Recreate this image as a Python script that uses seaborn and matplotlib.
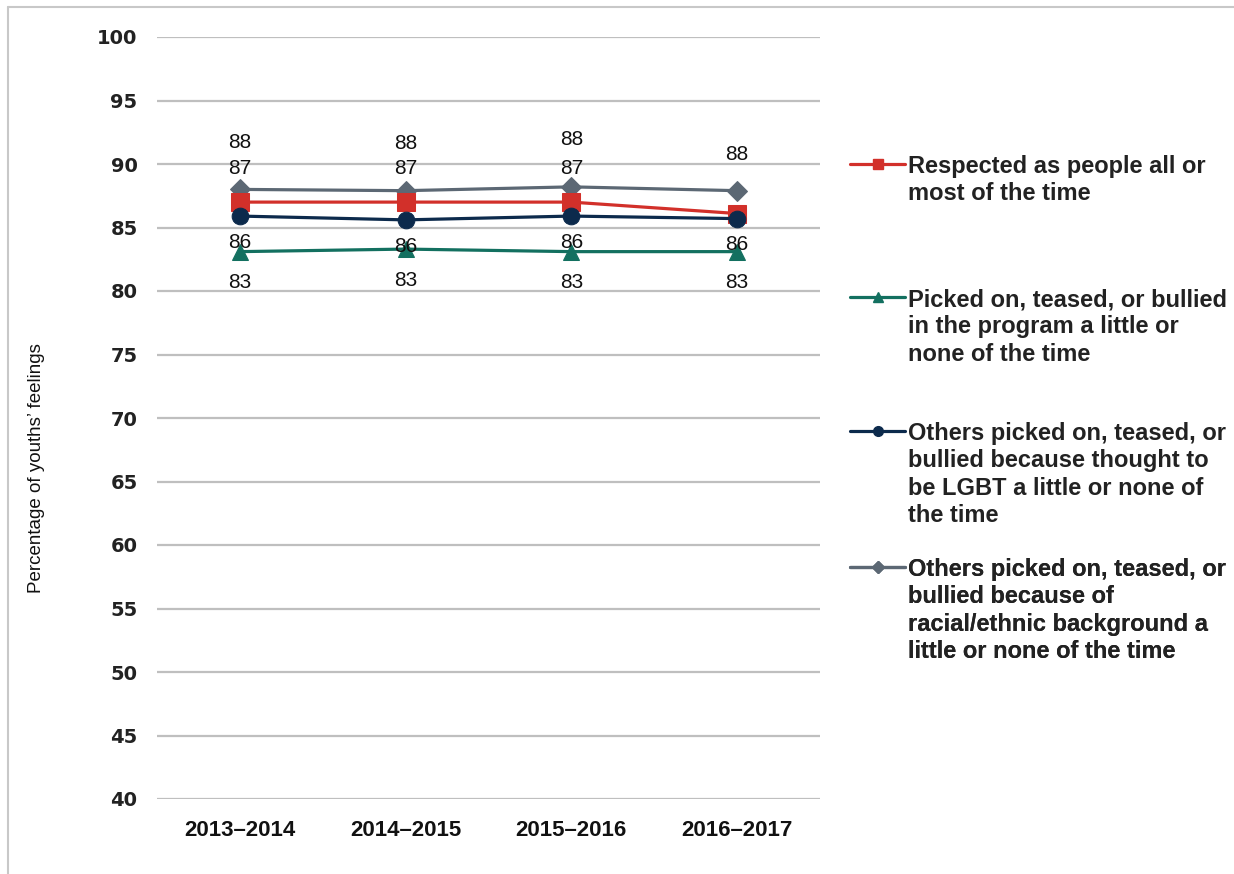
import matplotlib
matplotlib.use("Agg")
import matplotlib.pyplot as plt
from matplotlib.lines import Line2D
import seaborn as sns
import pandas as pd

# ---------------- data ----------------
years = ["2013\u20132014", "2014\u20132015", "2015\u20132016", "2016\u20132017"]
respected = [87.0, 87.0, 87.0, 86.1]
picked_on = [83.1, 83.3, 83.1, 83.1]
lgbt = [85.9, 85.6, 85.9, 85.7]
racial = [88.0, 87.9, 88.2, 87.9]

series_names = [
    "Respected as people all or\nmost of the time",
    "Picked on, teased, or bullied\nin the program a little or\nnone of the time",
    "Others picked on, teased, or\nbullied because thought to\nbe LGBT a little or none of\nthe time",
    "Others picked on, teased, or\nbullied because of\nracial/ethnic background a\nlittle or none of the time",
]
series_values = [respected, picked_on, lgbt, racial]
y_ticks = list(range(40, 101, 5))

colors = ["#d2302a", "#137060", "#0c2a4c", "#5c6874"]
markers = ["s", "^", "o", "D"]
marker_sizes = [13, 12, 12, 10]
legend_marker_sizes = [7, 7, 7, 6]
# label offsets in points (positive -> above the point); None -> label hidden under another
label_offsets = [[24, 24, 24, None], [-22.5, -22.5, -22.5, -22.5], [-19, -19, -19, -19], [34, 34, 34, 26]]

rows = []
for name, vals in zip(series_names, series_values):
    for yr, v in zip(years, vals):
        rows.append({"year": yr, "value": v, "series": name})
df = pd.DataFrame(rows)

sns.set_theme(style="white")
sans = ["Liberation Sans", "DejaVu Sans"]
plt.rcParams["font.family"] = sans

fig = plt.figure(figsize=(12.34, 8.74), dpi=100)
ax = fig.add_axes([157 / 1234, 1 - 799 / 874, (820 - 157) / 1234, (799 - 37) / 874])

zorders = [4, 3, 5, 2]
for name, vals, c, m, ms, z in zip(series_names, series_values, colors, markers, marker_sizes, zorders):
    sub = df[df["series"] == name]
    sns.lineplot(data=sub, x="year", y="value", color=c, marker=m, markersize=ms,
                 markeredgecolor=c, linewidth=2.3, ax=ax, legend=False, zorder=z, sort=False)

# data labels
for vals, offs in zip(series_values, label_offsets):
    for i, (v, o) in enumerate(zip(vals, offs)):
        if o is None:
            continue
        ax.annotate(f"{v:.0f}", (i, v), xytext=(0, o), textcoords="offset points",
                    ha="center", va="center", fontsize=15, family=sans, color="#111111",
                    zorder=6)

ax.set_xlim(-0.5, 3.5)
ax.set_ylim(40, 100)
ax.set_yticks(y_ticks)
ax.set_yticklabels([str(t) for t in y_ticks], fontsize=14, fontweight="bold",
                   family=["DejaVu Sans"], color="#222222")
ax.set_xticks(range(len(years)))
ax.set_xticklabels(years, fontsize=16, fontweight="bold", family=sans, color="#111111")
ax.tick_params(axis="y", length=0, pad=14)
ax.tick_params(axis="x", length=0, pad=15)
ax.set_xlabel("")
ax.set_ylabel("Percentage of youths\u2019 feelings", fontsize=13.5, family=sans, color="#111111")
ax.yaxis.set_label_coords(-0.169, 0.434)
ax.grid(axis="y", color="#bfbfbf", linewidth=1.6)
ax.grid(axis="x", visible=False)
for s in ax.spines.values():
    s.set_visible(False)

# legends (one per entry)
first_line_tops = [156, 289, 423, 559]
for name, c, m, lms, top in zip(series_names, colors, markers, legend_marker_sizes, first_line_tops):
    h = Line2D([], [], color=c, marker=m, markersize=lms, markeredgecolor=c, linewidth=2.3)
    leg = ax.legend([h], [name], loc="upper left",
                    bbox_to_anchor=(850 / 1234, 1 - (top - 1) / 874),
                    bbox_transform=fig.transFigure, frameon=False, borderpad=0,
                    borderaxespad=0, handlelength=2.33, handleheight=0.9, handletextpad=0.13,
                    prop={"size": 17, "weight": "bold", "family": sans})
    for t in leg.get_texts():
        t.set_linespacing(1.24)
        t.set_color("#222222")
    try:
        leg._legend_handle_box.get_children()[0].get_children()[0].align = "top"
    except Exception:
        pass
    ax.add_artist(leg)

# figure border (top and left only)
fig.add_artist(Line2D([8 / 1234, 1], [1 - 7 / 874, 1 - 7 / 874], transform=fig.transFigure,
                      color="#c8c8c8", linewidth=1.5))
fig.add_artist(Line2D([8 / 1234, 8 / 1234], [0, 1 - 7 / 874], transform=fig.transFigure,
                      color="#c8c8c8", linewidth=1.5))

fig.savefig("out.png", dpi=100)
